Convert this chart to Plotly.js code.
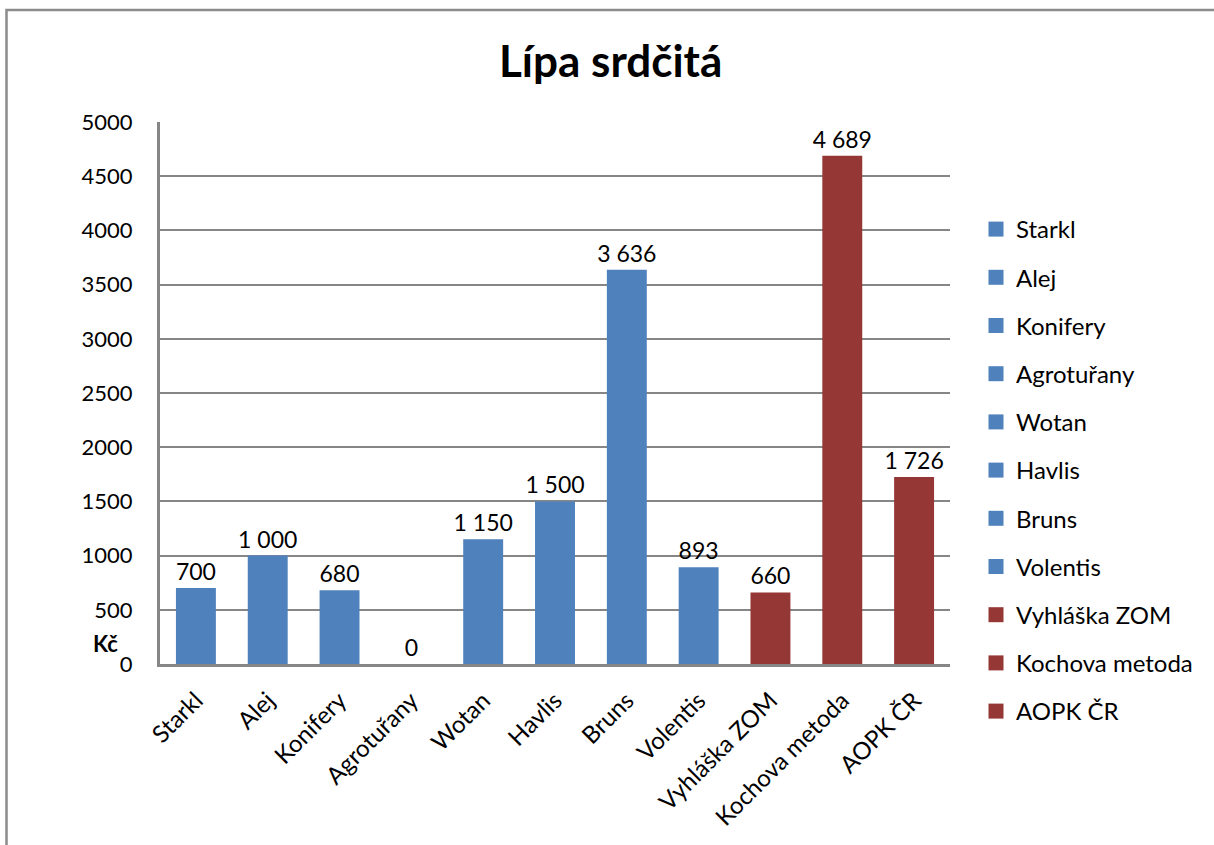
<!DOCTYPE html>
<html>
<head>
<meta charset="utf-8">
<script src="https://cdn.plot.ly/plotly-3.0.1.min.js"></script>
<style>html,body{margin:0;padding:0;background:#fff;}#chart{width:1214px;height:845px;}</style>
</head>
<body>
<div id="chart"></div>
<script>
const categories = ["Starkl","Alej","Konifery","Agrotuřany","Wotan","Havlis","Bruns","Volentis","Vyhláška ZOM","Kochova metoda","AOPK ČR"];
const values = [700, 1000, 680, 0, 1150, 1500, 3636, 893, 660, 4689, 1726];
const groups = ["shop","shop","shop","shop","shop","shop","shop","shop","method","method","method"];
const yTicks = [0, 500, 1000, 1500, 2000, 2500, 3000, 3500, 4000, 4500, 5000];

const colorFor = {shop: "#4F81BD", method: "#953735"};
const FONT = "Lato, 'Open Sans', sans-serif";

const barTraces = categories.map((c, i) => ({
  type: "bar",
  name: c,
  x: [c],
  y: [values[i]],
  width: 0.556,
  marker: {color: colorFor[groups[i]], line: {width: 0}},
  texttemplate: "%{y:,}",
  textposition: "outside",
  constraintext: "none",
  textfont: {family: FONT, size: 23, color: "#000"},
  cliponaxis: false,
  showlegend: false,
  legendgroup: "g" + i,
  hoverinfo: "x+y"
}));

// legend entries (square keys like the reference), one per category
const legendTraces = categories.map((c, i) => ({
  type: "scatter",
  mode: "markers",
  name: c,
  x: [c],
  y: [null],
  marker: {symbol: "square", size: 15, color: colorFor[groups[i]]},
  showlegend: true,
  legendgroup: "g" + i,
  hoverinfo: "skip"
}));

const L = 160, R = 950, T = 122, B = 664, W = 1214, H = 845;
const px = v => (v - L) / (R - L);
const py = v => (B - v) / (B - T);

const layout = {
  width: W, height: H,
  margin: {l: L, r: W - R, t: T, b: H - B, pad: 0},
  paper_bgcolor: "#fff",
  plot_bgcolor: "#fff",
  separators: ", ",
  barmode: "overlay",
  font: {family: FONT, size: 22, color: "#000"},
  title: {
    text: "<b>Lípa srdčitá</b>",
    font: {family: FONT, size: 44, color: "#000"},
    xref: "container", x: 0.503, xanchor: "center",
    yref: "container", y: 1 - 62 / H, yanchor: "middle"
  },
  xaxis: {
    type: "category",
    categoryorder: "array",
    categoryarray: categories,
    tickangle: -45,
    showline: true, linecolor: "#868686", linewidth: 3,
    showgrid: false, ticks: "", zeroline: false,
    ticklabelstandoff: 10,
    tickfont: {family: FONT, size: 24, color: "#000"},
    range: [-0.5, categories.length - 0.5]
  },
  yaxis: {
    range: [0, 5000],
    tickvals: yTicks,
    ticktext: yTicks.map(String),
    showline: true, linecolor: "#868686", linewidth: 3,
    showgrid: true, gridcolor: "#868686", gridwidth: 2,
    zeroline: false, ticks: "",
    ticklabelstandoff: 20,
    tickfont: {family: FONT, size: 22, color: "#000"}
  },
  legend: {
    x: px(976), xanchor: "left",
    y: py(207), yanchor: "top",
    font: {family: FONT, size: 24, color: "#000"},
    traceorder: "normal+grouped",
    tracegroupgap: 14,
    itemwidth: 30,
    bgcolor: "rgba(0,0,0,0)"
  },
  showlegend: true,
  annotations: [{
    text: "<b>Kč</b>",
    xref: "paper", yref: "paper",
    x: px(105), y: py(643),
    xanchor: "center", yanchor: "middle",
    showarrow: false,
    font: {family: FONT, size: 22, color: "#000"}
  }],
  shapes: [{
    type: "path",
    xref: "paper", yref: "paper",
    path: `M ${px(6.5)} ${py(H + 5)} L ${px(6.5)} ${py(10)} L ${px(W + 5)} ${py(10)}`,
    line: {color: "#8c8c8c", width: 2.5}
  }]
};

Plotly.newPlot("chart", barTraces.concat(legendTraces), layout, {displayModeBar: false, staticPlot: true});
</script>
</body>
</html>
